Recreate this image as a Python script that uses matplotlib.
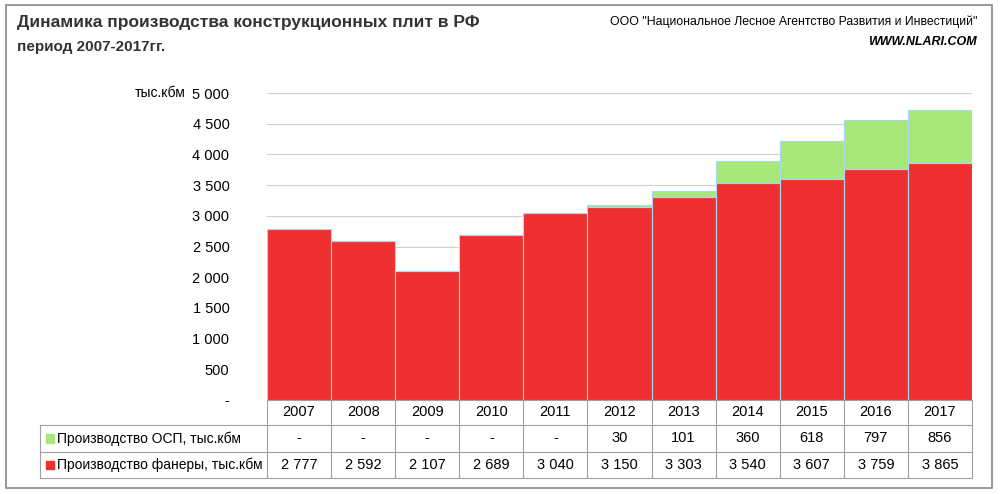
import matplotlib
matplotlib.use("Agg")
import matplotlib.pyplot as plt
from matplotlib.patches import Rectangle

plt.rcParams["font.family"] = "Liberation Sans"

years = ["2007","2008","2009","2010","2011","2012","2013","2014","2015","2016","2017"]
osp = [0,0,0,0,0,30,101,360,618,797,856]
plywood = [2777,2592,2107,2689,3040,3150,3303,3540,3607,3759,3865]
osp_label = "Производство ОСП, тыс.кбм"
ply_label = "Производство фанеры, тыс.кбм"

def fmt(v):
    return "-" if v == 0 else f"{v:,}".replace(",", " ")

fig = plt.figure(figsize=(10, 4.94), dpi=100)
fig.patches.append(Rectangle((0.006, 0.012), 0.986, 0.978, transform=fig.transFigure,
                             fill=False, edgecolor="#888888", lw=1.2))
ax = fig.add_axes([0.267, 0.1903, 0.705, 0.6214])
x = list(range(len(years)))
ax.bar(x, plywood, width=1.0, align="edge", color="#f03030", edgecolor="#a8d8f0", lw=0.8, zorder=3)
ax.bar(x, osp, bottom=plywood, width=1.0, align="edge", color="#a8e878", edgecolor="#a8d8f0", lw=0.8, zorder=3)
ax.set_xlim(0, 11)
ax.set_ylim(0, 5000)
ticks = list(range(0, 5001, 500))
ax.set_yticks(ticks)
ax.set_yticklabels(["-"] + [fmt(t) for t in ticks[1:]], fontsize=10.5)
ax.tick_params(axis="y", length=0, pad=27)
ax.set_xticks([])
ax.grid(axis="y", color="#d0d0d0", lw=0.8, zorder=0)
for s in ax.spines.values():
    s.set_visible(False)
ax.text(-0.116, 1.0, "тыс.кбм", transform=ax.transAxes, fontsize=10, ha="right", va="center")

tr = ax.get_xaxis_transform()
rows = [0, -0.0814, -0.169, -0.254]
lc = "#a0a0a0"
for i, r in enumerate(rows):
    x0 = 0 if i == 0 else -3.54
    ax.plot([x0, 11], [r, r], transform=tr, color=lc, lw=0.8, clip_on=False)
for xi in range(12):
    ax.plot([xi, xi], [0, rows[-1]], transform=tr, color=lc, lw=0.8, clip_on=False)
ax.plot([-3.54, -3.54], [rows[1], rows[-1]], transform=tr, color=lc, lw=0.8, clip_on=False)
mid = [(rows[i] + rows[i+1]) / 2 for i in range(3)]
for i in x:
    ax.text(i + 0.5, mid[0], years[i], transform=tr, ha="center", va="center", fontsize=10.5)
    ax.text(i + 0.5, mid[1], fmt(osp[i]), transform=tr, ha="center", va="center", fontsize=10.5)
    ax.text(i + 0.5, mid[2], fmt(plywood[i]), transform=tr, ha="center", va="center", fontsize=10.5)
for j, (lab, col) in enumerate([(osp_label, "#a8e878"), (ply_label, "#f03030")]):
    ax.add_patch(Rectangle((-3.45, mid[j+1] - 0.014), 0.13, 0.028, transform=tr, color=col, clip_on=False))
    ax.text(-3.28, mid[j+1], lab, transform=tr, ha="left", va="center", fontsize=10)

fig.text(0.017, 0.955, "Динамика производства конструкционных плит в РФ", fontsize=12.5, weight="bold",
         color="#333333", va="center")
fig.text(0.017, 0.905, "период 2007-2017гг.", fontsize=11, weight="bold", color="#333333", va="center")
fig.text(0.977, 0.955, 'ООО "Национальное Лесное Агентство Развития и Инвестиций"', fontsize=8.8, ha="right", va="center")
fig.text(0.977, 0.915, "WWW.NLARI.COM", fontsize=9, ha="right", va="center", style="italic", weight="bold")
fig.savefig("out.png", dpi=100)
